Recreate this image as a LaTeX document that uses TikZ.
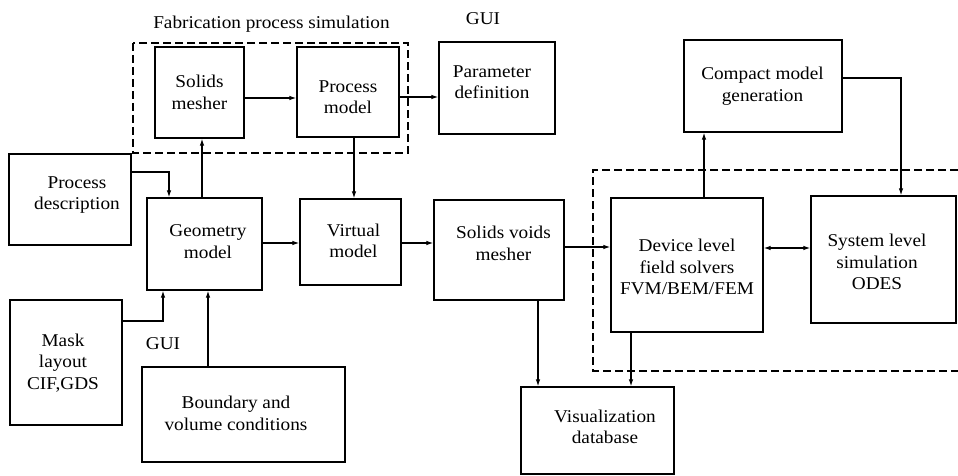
\documentclass[tikz,border=0pt]{standalone}
\usepackage{fontspec}
\setmainfont{Liberation Serif}[FakeStretch=1.07]
\usetikzlibrary{arrows.meta}
\begin{document}
\begin{tikzpicture}[x=1pt,y=-1pt,
  box/.style={draw, line width=1.3pt, rectangle, inner sep=0pt},
  txt/.style={align=center, font=\fontsize{18}{21.5}\selectfont, inner sep=0pt},
  conn/.style={line width=1.1pt},
  tip/.tip={Latex[length=7pt,width=4.5pt]},
  arr/.style={conn, -tip},
  dashbox/.style={line width=1.3pt, dash pattern=on 8pt off 4pt}]
\useasboundingbox (0,0) rectangle (958,476);

% boxes
\node[box, minimum width=89pt,  minimum height=91pt]  (sm)    at (199.5,92.5) {};
\node[box, minimum width=102pt, minimum height=90pt]  (pm)    at (348,92) {};
\node[box, minimum width=116pt, minimum height=92pt]  (par)   at (497,88) {};
\node[box, minimum width=122pt, minimum height=91pt]  (pdesc) at (70,199.5) {};
\node[box, minimum width=115pt, minimum height=92pt]  (gm)    at (204.5,244) {};
\node[box, minimum width=101pt, minimum height=86pt]  (vm)    at (350.5,242) {};
\node[box, minimum width=130pt, minimum height=100pt] (svm)   at (499,250) {};
\node[box, minimum width=152pt, minimum height=134pt] (dev)   at (687,265) {};
\node[box, minimum width=145pt, minimum height=127pt] (sys)   at (883.5,259.5) {};
\node[box, minimum width=158pt, minimum height=92pt]  (comp)  at (763,86) {};
\node[box, minimum width=153pt, minimum height=87pt]  (vis)   at (597.5,430.5) {};
\node[box, minimum width=112pt, minimum height=125pt] (mask)  at (66,362.5) {};
\node[box, minimum width=203pt, minimum height=95pt]  (bnd)   at (243.5,414.5) {};

% texts
\node[txt] (sm-t)    at (199.5,92.5) {Solids\\mesher};
\node[txt] (pm-t)    at (348,97) {Process\\model};
\node[txt] (par-t)   at (492,82) {Parameter\\definition};
\node[txt] (pdesc-t) at (77,195) {Process\\description};
\node[txt] (gm-t)    at (208,241.5) {Geometry\\model};
\node[txt] (vm-t)    at (353.5,241) {Virtual\\model};
\node[txt] (svm-t)   at (503.5,243.5) {Solids voids\\mesher};
\node[txt] (dev-t)   at (687,267) {Device level\\field solvers\\FVM/BEM/FEM};
\node[txt] (sys-t)   at (877,262) {System level\\simulation\\ODES};
\node[txt] (comp-t)  at (762.5,86) {Compact model\\generation};
\node[txt] (vis-t)   at (605,427) {Visualization\\database};
\node[txt] (mask-t)  at (63,363) {Mask\\layout\\CIF,GDS};
\node[txt] (bnd-t)   at (236,413.5) {Boundary and\\volume conditions};

% free labels
\node[txt, anchor=base] (fab) at (271.5,28.3) {Fabrication process simulation};
\node[txt, anchor=base] (gui1) at (483,25) {GUI};
\node[txt] (gui2) at (163,343.5) {GUI};

% dashed groups
\draw[dashbox] (133,43) rectangle (408,153);
\draw[dashbox] (958,170) -- (593,170) -- (593,371) -- (958,371);

% connectors
\draw[arr] (sm.east |- 0,98) -- (pm.west |- 0,98);
\draw[arr] (pm.east |- 0,97) -- (par.west |- 0,97);
\draw[arr] (pm.south -| 354,0) -- (vm.north -| 354,0);
\draw[arr] (gm.north -| 202,0) -- (sm.south -| 202,0);
\draw[arr] (pdesc.east |- 0,172) -| (gm.north -| 169,0);
\draw[arr] (gm.east |- 0,243) -- (vm.west |- 0,243);
\draw[arr] (vm.east |- 0,243) -- (svm.west |- 0,243);
\draw[arr] (mask.east |- 0,321) -| (gm.south -| 163,0);
\draw[arr] (bnd.north -| 208,0) -- (gm.south -| 208,0);
\draw[arr] (svm.east |- 0,247) -- (dev.west |- 0,247);
\draw[arr] (svm.south -| 538,0) -- (vis.north -| 538,0);
\draw[arr] (dev.south -| 631,0) -- (vis.north -| 631,0);
\draw[arr] (dev.north -| 704,0) -- (comp.south -| 704,0);
\draw[arr] (comp.east |- 0,78) -| (sys.north -| 901,0);
\draw[conn, tip-tip] (dev.east |- 0,248) -- (sys.west |- 0,248);
\end{tikzpicture}
\end{document}
